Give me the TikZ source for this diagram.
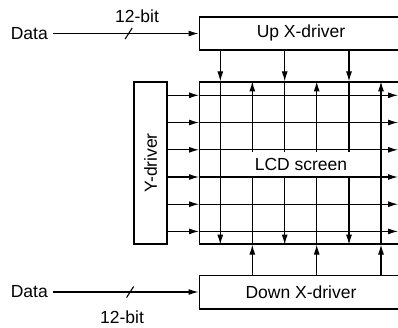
\documentclass[tikz,border=0pt]{standalone}
\usepackage{fontspec}
\setmainfont{Liberation Sans}
\usetikzlibrary{arrows.meta}
\begin{document}
\begin{tikzpicture}[x=1pt,y=-1pt,
  every node/.style={font=\fontsize{17.5}{20}\selectfont},
  box/.style={draw,line width=1.2pt,inner sep=0pt},
  ln/.style={line width=1.1pt},
  arr/.style={ln,-{Latex[length=10pt,width=6pt]}},
  lbl/.style={inner sep=0pt}]
\useasboundingbox (0,0) rectangle (398,327);
% boxes
\node[box,minimum width=203,minimum height=33,anchor=west] (up) at (198.5,33.5) {};
\node[lbl] at (301,33) {Up X-driver};
\node[box,minimum width=203,minimum height=162,anchor=west] (scr) at (199,163) {};
\node[box,minimum width=33,minimum height=162] (yd) at (150.5,163) {\rotatebox{90}{Y-driver}};
\node[box,minimum width=203,minimum height=33.5,anchor=west] (dn) at (198.5,292.3) {};
\node[lbl] at (301,292.5) {Down X-driver};
% data inputs
\node[anchor=east,inner xsep=5pt,inner ysep=0pt] (d1) at (53,33.5) {Data};
\node[anchor=east,inner xsep=5pt,inner ysep=0pt] (d2) at (53,292) {Data};
\draw[arr] (d1.east) -- coordinate[pos=0.52](s1) (d1.east -| up.west);
\draw[arr] (d2.east) -- coordinate[pos=0.53](s2) (d2.east -| dn.west);
\draw[ln] ([shift={(-3.5,5.5)}]s1) -- ([shift={(3.5,-5.5)}]s1);
\draw[ln] ([shift={(-3.5,5.5)}]s2) -- ([shift={(3.5,-5.5)}]s2);
\node[lbl] (b1) at (137,16) {12-bit};
\node[lbl] (b2) at (122,317) {12-bit};
% columns
\coordinate (c1) at (220.3,0);
\coordinate (c2) at (252.3,0);
\coordinate (c3) at (284.7,0);
\coordinate (c4) at (316.7,0);
\coordinate (c5) at (349,0);
\coordinate (c6) at (381,0);
\foreach \c in {c1,c3,c5}{
  \draw[arr] (\c |- up.south) -- (\c |- scr.north);
  \draw[arr] (\c |- scr.north) -- (\c |- scr.south);
}
\foreach \c in {c2,c4,c6}{
  \draw[arr] (\c |- dn.north) -- (\c |- scr.south);
  \draw[arr] (\c |- scr.south) -- (\c |- scr.north);
}
% LCD label
\node[fill=white,inner xsep=3pt,inner ysep=0pt,minimum height=25] (lcd) at (301,164.5) {LCD screen};
% rows
\coordinate (rend) at (398,0);
\foreach \r in {95.3,122.5,149.8,177,204.2,231.4}{
  \coordinate (rr) at (0,\r);
  \draw[arr] (rr -| yd.east) -- (rr -| scr.west);
  \draw[arr] (rr -| scr.west) -- (rr -| rend);
}
\end{tikzpicture}
\end{document}
